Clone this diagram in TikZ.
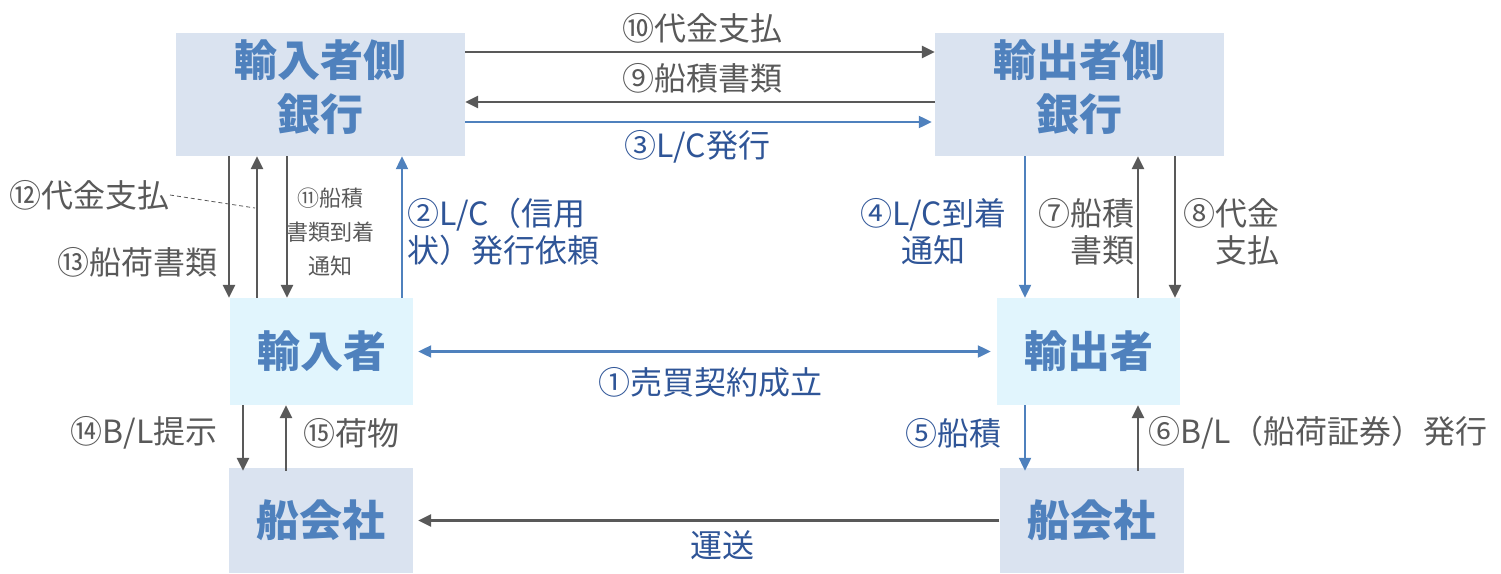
\documentclass[tikz,border=0pt]{standalone}
\usepackage{fontspec}
\setmainfont{Noto Sans CJK JP}
\usetikzlibrary{arrows.meta}
\definecolor{bankfill}{HTML}{DAE3F0}
\definecolor{partyfill}{HTML}{E1F5FD}
\definecolor{boxtext}{HTML}{4F81BD}
\definecolor{arrgray}{HTML}{595959}
\definecolor{arrblue}{HTML}{4F81BD}
\definecolor{lblblue}{HTML}{2F5597}
\tikzset{
  box/.style={draw=none,inner sep=0pt,text=boxtext,font=\fontsize{43}{54}\selectfont\bfseries,align=center},
  bank/.style={box,fill=bankfill,minimum width=289pt,minimum height=123pt},
  banktext/.style={box,fill=none},
  party/.style={box,fill=partyfill,minimum width=183pt,minimum height=107pt},
  ship/.style={box,fill=bankfill,minimum width=184pt,minimum height=105pt},
  garr/.style={draw=arrgray,line width=2.6pt,-{Triangle[length=13pt,width=12pt]},color=arrgray},
  barr/.style={draw=arrblue,line width=2.2pt,-{Triangle[length=13pt,width=12pt]},color=arrblue},
  glbl/.style={inner sep=0pt,text=arrgray,font=\fontsize{32}{37}\selectfont},
  blbl/.style={inner sep=0pt,text=lblblue,font=\fontsize{32}{37}\selectfont},
  slbl/.style={inner sep=0pt,text=arrgray,font=\fontsize{22}{34}\selectfont,align=center}
}
\begin{document}
\begin{tikzpicture}[x=1pt,y=-1pt]
\useasboundingbox (0,0) rectangle (1501,573);
% boxes
\node[bank] (ib) at (320.5,94.5) {};
\node[banktext] (ibt) at ([yshift=7pt]ib.center) {輸入者側\\銀行};
\node[bank] (eb) at (1079.5,94.5) {};
\node[banktext] (ebt) at ([yshift=7pt]eb.center) {輸出者側\\銀行};
\node[party] (imp) at (321.5,351.5) {輸入者};
\node[party] (exp) at (1088.5,351.5) {輸出者};
\node[ship] (sl) at (321,520.5) {船会社};
\node[ship] (sr) at (1091.5,520.5) {船会社};
% bank to bank
\draw[garr] (ib.east |- 0,52) -- (eb.west |- 0,52);
\draw[garr] (eb.west |- 0,102) -- (ib.east |- 0,102);
\draw[barr] (ib.east |- 0,122) -- ([xshift=-3pt]eb.west |- 0,122);
\node[glbl] (l10) at (702,28) {⑩代金支払};
\node[glbl] (l9) at (702,78) {⑨船積書類};
\node[blbl] (l3) at (697,147) {③L/C発行};
% importer side verticals
\draw[garr] (ib.south -| 229,0) -- (imp.north -| 229,0);
\draw[garr] (imp.north -| 257,0) -- (ib.south -| 257,0);
\draw[garr] (ib.south -| 287,0) -- (imp.north -| 287,0);
\draw[barr] (imp.north -| 402,0) -- (ib.south -| 402,0);
\node[glbl,anchor=east] (l12) at (170,195) {⑫代金支払};
\coordinate (d12) at (255,208);
\draw[arrgray,line width=0.8pt,dash pattern=on 4pt off 3pt] (l12.east) -- (d12);
\node[glbl,anchor=east] (l13) at (218,262) {⑬船荷書類};
\node[slbl] (l11) at (330,232) {⑪船積\\書類到着\\通知};
\node[blbl,anchor=west,align=left] (l2) at (407,232) {②L/C（信用\\状）発行依頼};
% exporter side verticals
\draw[barr] (eb.south -| 1025,0) -- (exp.north -| 1025,0);
\draw[garr] (exp.north -| 1138,0) -- (eb.south -| 1138,0);
\draw[garr] (eb.south -| 1175,0) -- (exp.north -| 1175,0);
\node[blbl,align=center] (l4) at (933,232) {④L/C到着\\通知};
\node[glbl,anchor=east,align=right] (l7) at (1135,232) {⑦船積\\書類};
\node[glbl,anchor=east,align=right] (l8) at (1280,232) {⑧代金\\支払};
% contract
\draw[barr,{Triangle[length=13pt,width=12pt]}-{Triangle[length=13pt,width=12pt]},shorten <=5pt,shorten >=6pt] (imp.east) -- (exp.west);
\node[blbl] (l1) at (710,382) {①売買契約成立};
% bottom verticals
\draw[garr] (imp.south -| 243,0) -- ([yshift=-3pt]sl.north -| 243,0);
\draw[garr] ([yshift=-3pt]sl.north -| 286,0) -- (imp.south -| 286,0);
\draw[barr] (exp.south -| 1025,0) -- ([yshift=-3pt]sr.north -| 1025,0);
\draw[garr] ([yshift=-3pt]sr.north -| 1138,0) -- (exp.south -| 1138,0);
\node[glbl,anchor=east] (l14) at (218,433) {⑭B/L提示};
\node[glbl,anchor=west] (l15) at (303,433) {⑮荷物};
\node[blbl,anchor=east] (l5) at (1002,433) {⑤船積};
\node[glbl,anchor=west] (l6) at (1148,433) {⑥B/L（船荷証券）発行};
% transport
\draw[garr,shorten >=5pt] (sr.west) -- (sl.east);
\node[blbl] (lt) at (722,545) {運送};
\end{tikzpicture}
\end{document}
